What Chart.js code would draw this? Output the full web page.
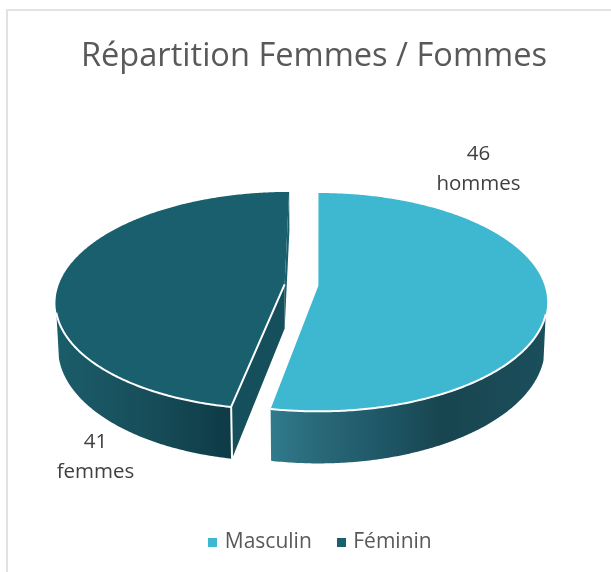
<!DOCTYPE html>
<html><head><meta charset="utf-8">
<style>
html,body{margin:0;padding:0;background:#fff;width:611px;height:572px;overflow:hidden}
#frame{position:absolute;left:6px;top:9px;width:700px;height:700px;border:2px solid #e2e2e2;box-sizing:border-box}
canvas{position:absolute;left:0;top:0}
</style>
<script src="https://cdn.jsdelivr.net/npm/chart.js@4"></script>
</head><body>
<div id="frame"></div>
<canvas id="c" width="611" height="572"></canvas>
<script>
const categories = ['Masculin', 'Féminin'];
const counts = [46, 41];
const sliceLabels = [['46', 'hommes'], ['41', 'femmes']];
const sliceColors = ['#3EB7D1', '#1A5F6E'];
const titleText = 'Répartition Femmes / Fommes';

// Perspective view of the flat pie produced by Chart.js
const A = 226, B = 106.5, P = 0.15, U0 = 0.0774, WALL = 44.2, BASE_X = 0.99, SHIFT_X = -12.5, SHIFT_Y = -11.5, LEGEND_SHIFT = 7.5;

const legendSwatch = (color) => {
  const s = document.createElement('canvas');
  s.width = 9; s.height = 9;
  const g = s.getContext('2d');
  g.fillStyle = color; g.fillRect(0, 0, 9, 9);
  return s;
};

const pie3d = {
  id: 'pie3d',
  afterLayout(chart) {
    chart.legend.left += LEGEND_SHIFT;
    chart.legend.right += LEGEND_SHIFT;
  },
  beforeDatasetsDraw(chart) {
    const ctx = chart.ctx, arcs = chart.getDatasetMeta(0).data;
    const view = (arc) => {
      const m = (arc.startAngle + arc.endAngle) / 2, off = arc.options.offset || 0;
      const ox = arc.x + Math.cos(m) * off, oy = arc.y + Math.sin(m) * off, R = arc.outerRadius;
      const proj = (r, t, h) => {
        const U = (ox + r * Math.cos(t) - arc.x) / R, V = (oy + r * Math.sin(t) - arc.y) / R, w = 1 - P * V;
        const k = r > 0 && h ? BASE_X : 1;
        return [arc.x + SHIFT_X + A * U0 + A * (U - U0) * k / w, arc.y + SHIFT_Y + (B * V + (h || 0)) / w];
      };
      return { proj, R };
    };
    const trace = (pts, first) => pts.forEach((p, i) => (i === 0 && first) ? ctx.moveTo(p[0], p[1]) : ctx.lineTo(p[0], p[1]));
    const rim = (v, a, b, h) => {
      const n = Math.max(2, Math.ceil(Math.abs(b - a) / 0.01)), out = [];
      for (let i = 0; i <= n; i++) out.push(v.proj(v.R, a + (b - a) * i / n, h));
      return out;
    };
    const wall = (v, a, b, fill) => {
      const top = rim(v, a, b, 0), bot = rim(v, b, a, WALL);
      ctx.beginPath(); trace(top, true); trace(bot, false); ctx.closePath();
      ctx.fillStyle = fill; ctx.fill();
    };
    const poly = (pts, fill) => { ctx.beginPath(); trace(pts, true); ctx.closePath(); ctx.fillStyle = fill; ctx.fill(); };
    const line = (pts, w) => { ctx.beginPath(); trace(pts, true); ctx.strokeStyle = '#fff'; ctx.lineWidth = w; ctx.lineJoin = 'round'; ctx.stroke(); };
    const surface = (v, arc, fill) => {
      const pts = [v.proj(0, 0, 0)].concat(rim(v, arc.startAngle, arc.endAngle, 0));
      poly(pts, fill);
    };
    const LIM = 0.26;
    // dark slice
    const a1 = arcs[1], v1 = view(a1);
    const g1 = ctx.createLinearGradient(55, 0, 235, 0);
    g1.addColorStop(0, '#1B5D6A'); g1.addColorStop(0.5, '#174E5A'); g1.addColorStop(1, '#0D3A45');
    poly([v1.proj(v1.R, a1.endAngle, 0), v1.proj(0, 0, 0), v1.proj(0, 0, WALL), v1.proj(v1.R, a1.endAngle, WALL)], '#1A5F6E');
    poly([v1.proj(0, 0, 0), v1.proj(v1.R, a1.startAngle, 0), v1.proj(v1.R, a1.startAngle, WALL), v1.proj(0, 0, WALL)], '#154F5B');
    wall(v1, a1.startAngle, Math.PI - LIM, g1);
    surface(v1, a1, sliceColors[1]);
    line(rim(v1, a1.startAngle, Math.PI - LIM, 0), 2);
    line([v1.proj(0, 0, 0), v1.proj(v1.R, a1.startAngle, 0), v1.proj(v1.R, a1.startAngle, WALL)], 2);
    // light slice
    const a0 = arcs[0], v0 = view(a0);
    const g0 = ctx.createLinearGradient(272, 0, 547, 0);
    g0.addColorStop(0, '#307A8C'); g0.addColorStop(0.14, '#2A6B7B'); g0.addColorStop(0.45, '#1D5362');
    g0.addColorStop(0.62, '#18454F'); g0.addColorStop(1, '#1B4F5C');
    wall(v0, LIM, a0.endAngle, g0);
    surface(v0, a0, sliceColors[0]);
    line(rim(v0, LIM, a0.endAngle, 0), 2);
    return false;
  },
  afterDraw(chart) {
    const ctx = chart.ctx, a = chart.getDatasetMeta(0).data[0];
    const cx = a.x + SHIFT_X, cy = a.y + SHIFT_Y;
    ctx.save();
    ctx.font = '20.5px "Open Sans"'; ctx.fillStyle = '#404040'; ctx.textAlign = 'center'; ctx.textBaseline = 'middle';
    const anchors = [[177, -131], [-206, 157]];
    sliceLabels.forEach((ls, i) => ls.forEach((t, j) => ctx.fillText(t, cx + anchors[i][0], cy + anchors[i][1] + j * 30)));
    ctx.restore();
  }
};

new Chart(document.getElementById('c'), {
  type: 'pie',
  data: { labels: categories, datasets: [{ data: counts, backgroundColor: sliceColors, borderWidth: 0, offset: 15 }] },
  options: {
    responsive: false, animation: false, rotation: 0,
    layout: { padding: { left: 17, top: 37, bottom: 9, right: 0 } },
    plugins: {
      tooltip: { enabled: false },
      title: { display: true, text: titleText, color: '#595959', font: { family: '"Open Sans"', size: 32.6, weight: 'normal' }, padding: { top: 0, bottom: 13 } },
      legend: {
        position: 'bottom',
        labels: {
          color: '#595959', font: { family: '"Open Sans"', size: 21 }, usePointStyle: true, boxWidth: 3, boxHeight: 9, padding: 28,
          generateLabels: (chart) => Chart.overrides.pie.plugins.legend.labels.generateLabels(chart).map((item, i) => ({ ...item, pointStyle: legendSwatch(sliceColors[i]) }))
        }
      }
    }
  },
  plugins: [pie3d]
});
</script>
</body></html>
